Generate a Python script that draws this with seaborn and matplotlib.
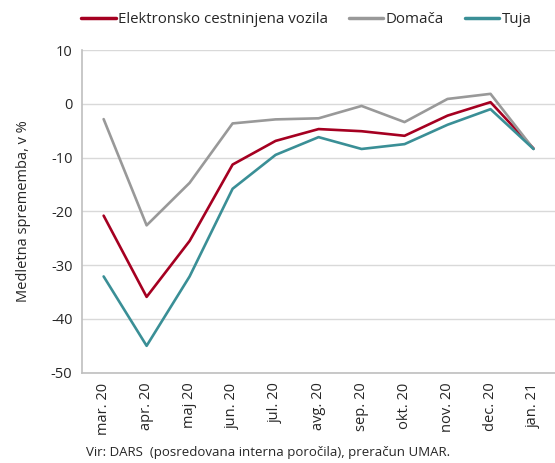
import matplotlib
matplotlib.use("Agg")
import matplotlib.pyplot as plt
import seaborn as sns
import pandas as pd
from matplotlib.lines import Line2D

months = ["mar. 20", "apr. 20", "maj 20", "jun. 20", "jul. 20", "avg. 20",
          "sep. 20", "okt. 20", "nov. 20", "dec. 20", "jan. 21"]
elektronsko = [-20.8, -35.9, -25.5, -11.3, -6.9, -4.7, -5.1, -5.95, -2.2, 0.3, -8.3]
domaca = [-2.85, -22.6, -14.7, -3.65, -2.9, -2.7, -0.4, -3.4, 0.9, 1.85, -8.4]
tuja = [-32.1, -45.0, -32.1, -15.8, -9.5, -6.2, -8.4, -7.5, -3.9, -1.0, -8.4]

series_names = ["Elektronsko cestninjena vozila", "Domača", "Tuja"]
colors = ["#A50021", "#999999", "#3A8F96"]

rows = []
for name, vals in zip(series_names, [elektronsko, domaca, tuja]):
    for i, (m, v) in enumerate(zip(months, vals)):
        rows.append({"idx": i, "month": m, "value": v, "series": name})
df = pd.DataFrame(rows)

sns.set_style("white")
plt.rcParams["font.family"] = ["Open Sans", "DejaVu Sans"]

fig = plt.figure(figsize=(5.55, 4.63), dpi=100)
ax = fig.add_axes([0.148, 0.195, 0.852, 0.697])

sns.lineplot(data=df, x="idx", y="value", hue="series", hue_order=series_names,
             palette=colors, linewidth=1.9, ax=ax, legend=False)

ax.set_xlim(-0.5, 10.5)
ax.set_ylim(-50, 10)
ax.set_yticks(range(-50, 11, 10))
ax.set_yticklabels([str(v) for v in range(-50, 11, 10)], fontsize=10.5)
ax.set_xticks(range(len(months)))
ax.set_xticklabels(months, rotation=90, fontsize=10.5)
ax.tick_params(axis="both", length=0, pad=7)
ax.set_xlabel("")
ax.set_ylabel("Medletna sprememba, v %", fontsize=10.5, labelpad=14)
ax.grid(axis="y", color="#D9D9D9", linewidth=1)
ax.set_axisbelow(True)
for s in ["top", "right"]:
    ax.spines[s].set_visible(False)
for s in ["left", "bottom"]:
    ax.spines[s].set_color("#BFBFBF")
    ax.spines[s].set_linewidth(1.2)

handles = [Line2D([0], [0], color=c, lw=2.5) for c in colors]
fig.legend(handles, series_names, loc="center", bbox_to_anchor=(0.552, 0.958),
           ncol=3, frameon=False, fontsize=10.8, handlelength=2.3,
           handletextpad=0.15, columnspacing=1.4)

fig.text(0.155, 0.008, "Vir: DARS  (posredovana interna poročila), preračun UMAR.",
         fontsize=9.5, ha="left", va="bottom")

fig.savefig("out.png", dpi=100)
